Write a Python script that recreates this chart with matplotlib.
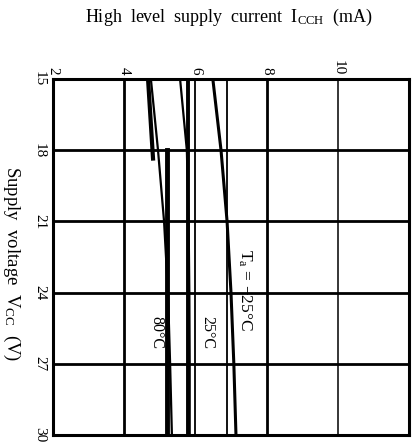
import matplotlib
matplotlib.use("Agg")
import matplotlib.pyplot as plt

plt.rcParams['font.family'] = ['Liberation Serif', 'DejaVu Serif']
plt.rcParams['mathtext.fontset'] = 'custom'
plt.rcParams['mathtext.rm'] = 'Liberation Serif'
plt.rcParams['mathtext.it'] = 'Liberation Serif:italic'

# supply voltage (V) and current (mA) for each ambient temperature
vcc = [15, 18, 21, 24, 27, 30]
icc_m25 = [6.49, 6.72, 6.89, 7.00, 7.08, 7.14]
icc_25 = [5.57, 5.76, 5.81, 5.83, 5.84, 5.84]
icc_25_flat = [5.80, 5.80]
icc_80 = [4.75, 4.95, 5.12, 5.23, 5.29, 5.34]
icc_80_flat = [5.20, 5.20]
icc_80_stub = [4.67, 4.81]
vcc_25_flat = [15, 30]
vcc_80_flat = [18, 30]
vcc_80_stub = [15, 18.35]

volt_ticks = [15, 18, 21, 24, 27, 30]
curr_ticks = [2, 4, 6, 8, 10]
curr_grid = [4, 6, 6.9, 8, 10]
curr_grid_lw = [2.0, 1.3, 1.3, 2.0, 1.1]

fig = plt.figure(figsize=(4.15, 4.47), dpi=100)
ax = fig.add_axes([0.1277, 0.0268, 0.8578, 0.7964])
ax.set_xlim(2, 12)
ax.set_ylim(30, 15)

for v in volt_ticks[1:-1]:
    ax.axhline(v, color='black', lw=2.0, zorder=1)
for c, lw in zip(curr_grid, curr_grid_lw):
    ax.axvline(c, color='black', lw=lw, zorder=1)

ax.plot(icc_m25, vcc, color='black', lw=2.2, zorder=3)
ax.plot(icc_25, vcc, color='black', lw=1.6, zorder=3)
ax.plot(icc_25_flat, vcc_25_flat, color='black', lw=2.8, zorder=3)
ax.plot(icc_80, vcc, color='black', lw=1.6, zorder=3)
ax.plot(icc_80_flat, vcc_80_flat, color='black', lw=3.5, zorder=3)
ax.plot(icc_80_stub, vcc_80_stub, color='black', lw=3.0, zorder=3)

ax.text(7.39, 23.9, r'T$_\mathrm{a}$ = $-$25°C', rotation=-90, ha='center', va='center', fontsize=12.5)
ax.text(6.33, 25.66, '25°C', rotation=-90, ha='center', va='center', fontsize=11.5)
ax.text(4.91, 25.66, '80°C', rotation=-90, ha='center', va='center', fontsize=11.5)

ax.xaxis.tick_top()
ax.set_xticks(curr_ticks)
ax.set_yticks(volt_ticks)
ax.tick_params(axis='both', length=0, labelsize=11, labelrotation=-90)
ax.tick_params(axis='x', pad=3)
ax.tick_params(axis='y', pad=5)
for lab in ax.get_yticklabels():
    lab.set_verticalalignment('center')
for s in ax.spines.values():
    s.set_linewidth(2.2)

fig.text(0.552, 0.96, r'High  level  supply  current  I$_\mathrm{CCH}$  (mA)', ha='center', va='center', fontsize=13)
fig.text(0.027, 0.41, r'Supply  voltage  V$_\mathrm{CC}$  (V)', ha='center', va='center', rotation=-90, fontsize=13.5)

fig.savefig('out.png', dpi=100)
